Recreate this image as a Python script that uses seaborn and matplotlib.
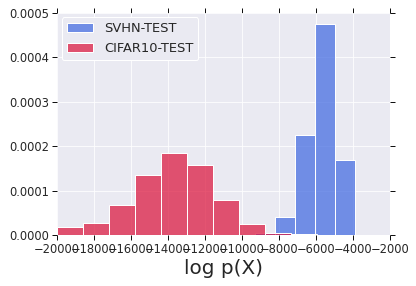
import numpy as np
import matplotlib
matplotlib.use("Agg")
import matplotlib.pyplot as plt
from matplotlib.ticker import FormatStrFormatter
import seaborn as sns

# Histogram data (densities)
svhn_edges = [-9297, -8216, -7135, -6054, -4973, -3892]
svhn_density = [5e-6, 4.1e-5, 2.25e-4, 4.75e-4, 1.69e-4]

cifar_edges = [-20027, -18619, -17211, -15803, -14395, -12987,
               -11579, -10171, -8763, -7355, -5947]
cifar_density = [1.9e-5, 2.8e-5, 6.8e-5, 1.36e-4, 1.85e-4,
                 1.58e-4, 7.9e-5, 2.5e-5, 5.6e-6, 1.2e-6]

series_labels = ["SVHN-TEST", "CIFAR10-TEST"]
x_ticks = list(range(-20000, -1999, 2000))
y_ticks = [0.0, 0.0001, 0.0002, 0.0003, 0.0004, 0.0005]

sns.set_style("darkgrid")
plt.rcParams.update({
    "font.family": ["DejaVu Sans"],
    "xtick.bottom": True, "xtick.top": True,
    "ytick.left": True, "ytick.right": True,
    "xtick.direction": "out", "ytick.direction": "out",
    "xtick.major.size": 5, "ytick.major.size": 5,
    "xtick.major.width": 1, "ytick.major.width": 1,
    "xtick.color": "#111111", "ytick.color": "#111111",
    "xtick.labelcolor": "#262626", "ytick.labelcolor": "#262626",
})

fig = plt.figure(figsize=(416 / 72, 286 / 72), dpi=72)
ax = fig.add_axes([57 / 416, 1 - 235 / 286, 333 / 416, 222.3 / 286])

def centers(edges):
    e = np.asarray(edges, dtype=float)
    return (e[:-1] + e[1:]) / 2

sns.histplot(x=centers(svhn_edges), weights=svhn_density, bins=svhn_edges,
             stat="count", color="royalblue", alpha=0.72, edgecolor="white",
             linewidth=1, ax=ax, label=series_labels[0])
sns.histplot(x=centers(cifar_edges), weights=cifar_density, bins=cifar_edges,
             stat="count", color="crimson", alpha=0.72, edgecolor="white",
             linewidth=1, ax=ax, label=series_labels[1])

ax.set_xlim(-20000, -2000)
ax.set_ylim(0, 0.0005)
ax.set_xticks(x_ticks)
ax.set_yticks(y_ticks)
ax.yaxis.set_major_formatter(FormatStrFormatter("%.4f"))
ax.tick_params(labelsize=11.5, pad=3)
ax.set_ylabel("")
ax.set_xlabel("log p(X)", fontsize=20, color="#262626", labelpad=3)
for s in ax.spines.values():
    s.set_visible(False)

leg = ax.legend(loc="upper left", fontsize=13, frameon=True,
                facecolor="#EAEAF2", edgecolor="white", framealpha=1,
                handletextpad=0.85, borderaxespad=0.35)
for t in leg.get_texts():
    t.set_color("#262626")

fig.savefig("out.png", dpi=72)
